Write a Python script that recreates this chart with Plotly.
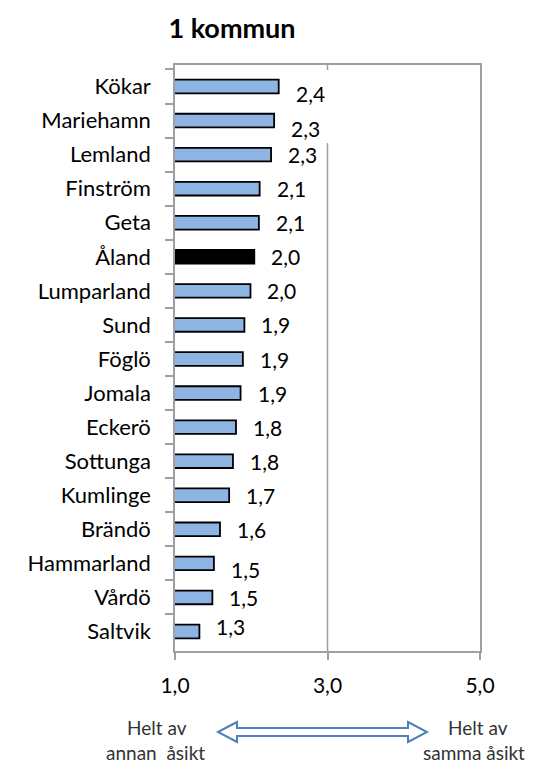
import plotly.graph_objects as go

categories = ["Kökar", "Mariehamn", "Lemland", "Finström", "Geta", "Åland", "Lumparland",
              "Sund", "Föglö", "Jomala", "Eckerö", "Sottunga", "Kumlinge", "Brändö",
              "Hammarland", "Vårdö", "Saltvik"]
values = [2.36, 2.30, 2.26, 2.11, 2.10, 2.04, 1.99, 1.91, 1.89, 1.86, 1.80, 1.76, 1.71,
          1.59, 1.51, 1.49, 1.32]
value_labels = ["2,4", "2,3", "2,3", "2,1", "2,1", "2,0", "2,0", "1,9", "1,9", "1,9",
                "1,8", "1,8", "1,7", "1,6", "1,5", "1,5", "1,3"]
x_tickvals = [1, 3, 5]
x_ticktext = ["1,0", "3,0", "5,0"]
title_text = "1 kommun"
left_lines = ["Helt av", "annan  åsikt"]
right_lines = ["Helt av", "samma åsikt"]
highlight = "Åland"

# manual label nudges (pixels, as in the original layout)
label_nudge = {"Kökar": -7, "Mariehamn": -8, "Hammarland": -6, "Saltvik": 5}

FONT = "Lato"
OFF = 8  # page body margin in the browser
W, H = 535 - OFF, 763 - OFF
# target plot area in window pixels: x 175..480, y 65..651
L, R, T, B = 175 - OFF, 535 - 480, 65 - OFF, 763 - 651
pw, ph = W - L - R, H - T - B

bar_colors = ["#000000" if c == highlight else "#8DB4E2" for c in categories]

fig = go.Figure()
fig.add_trace(go.Bar(
    x=values, y=categories, orientation="h",
    marker=dict(color=bar_colors, line=dict(color="#000000", width=1.8)),
    width=0.4, hoverinfo="skip",
))

for c, v, t in zip(categories, values, value_labels):
    fig.add_annotation(x=v, y=c, xref="x", yref="y", text=t, showarrow=False,
                       xanchor="left", yanchor="middle", xshift=15,
                       yshift=label_nudge.get(c, 0),
                       font=dict(family=FONT, size=21, color="#000000"))

def px(x):
    # window x -> paper
    return (x - OFF - L) / pw

def py(y):
    # window y -> paper
    return (H - B - (y - OFF)) / ph

# 3,0 gridline (with the gap under the top labels, as in the original)
fig.add_shape(type="line", xref="x", yref="paper", x0=3, x1=3, y0=0, y1=py(143),
              line=dict(color="#A0A0A0", width=1.5), layer="below")
fig.add_shape(type="line", xref="x", yref="paper", x0=3, x1=3, y0=py(70), y1=1,
              line=dict(color="#A0A0A0", width=1.5), layer="below")

# double-headed hollow arrow
xl, xr, yc = 218, 427, 732
sh, hh, hl = 4, 10, 19
pts = [(xl, yc), (xl + hl, yc - hh), (xl + hl, yc - sh), (xr - hl, yc - sh), (xr - hl, yc - hh),
       (xr, yc), (xr - hl, yc + hh), (xr - hl, yc + sh), (xl + hl, yc + sh), (xl + hl, yc + hh)]
path = "M " + " L ".join(f"{px(a):.5f},{py(b):.5f}" for a, b in pts) + " Z"
fig.add_shape(type="path", xref="paper", yref="paper", path=path,
              line=dict(color="#4F81BD", width=2), fillcolor="#FFFFFF")

for lines, xs in ((left_lines, (157, 155)), (right_lines, (478, 474))):
    for line, xc, yc_ in zip(lines, xs, (727, 752)):
        fig.add_annotation(xref="paper", yref="paper", x=px(xc), y=py(yc_), text=line,
                           showarrow=False, xanchor="center", yanchor="middle",
                           borderpad=0,
                           font=dict(family=FONT, size=19, color="#333333"))

fig.update_layout(
    width=W, height=H,
    margin=dict(l=L, r=R, t=T, b=B, pad=0),
    paper_bgcolor="#FFFFFF", plot_bgcolor="#FFFFFF",
    showlegend=False,
    title=dict(text=f"<b>{title_text}</b>", xref="paper", x=px(232), xanchor="center",
               yref="container", y=1 - (29 - OFF) / H, yanchor="middle",
               font=dict(family=FONT, size=27, color="#000000")),
    xaxis=dict(range=[1, 5], tickvals=x_tickvals, ticktext=x_ticktext, showgrid=False,
               zeroline=False, showline=True, linecolor="#A0A0A0", linewidth=1.5,
               mirror=True, ticks="outside", ticklen=7, tickcolor="#A0A0A0", tickwidth=1.5,
               ticklabelstandoff=8,
               tickfont=dict(family=FONT, size=21, color="#000000"), fixedrange=True),
    yaxis=dict(autorange="reversed", showgrid=False, zeroline=False, showline=True,
               linecolor="#A0A0A0", linewidth=1.5, mirror=True, ticks="outside",
               tickson="boundaries", ticklen=8, tickcolor="#A0A0A0", tickwidth=1.5,
               ticklabelstandoff=18,
               tickfont=dict(family=FONT, size=22, color="#000000"), fixedrange=True),
    font=dict(family=FONT),
)

fig.write_html("out.html")
